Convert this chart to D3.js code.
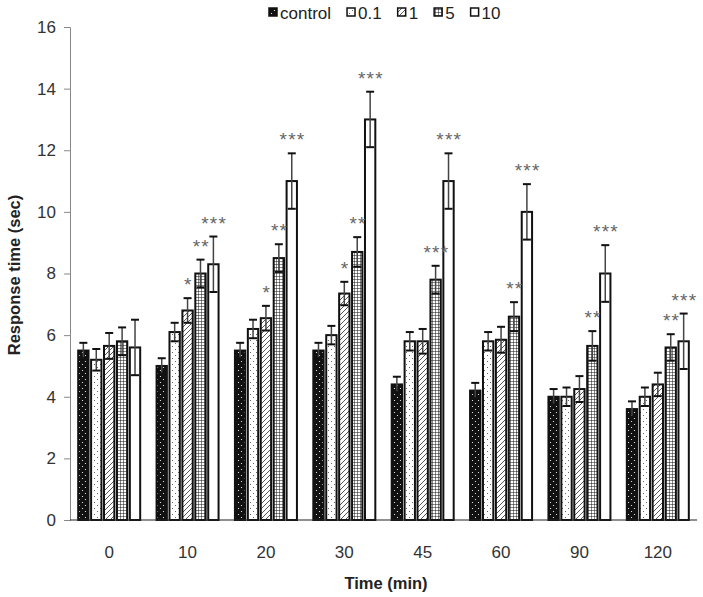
<!DOCTYPE html>
<html>
<head>
<meta charset="utf-8">
<script src="https://cdn.jsdelivr.net/npm/d3@7"></script>
<style>
  html, body { margin: 0; padding: 0; background: #fff; }
  svg { display: block; }
  text { font-family: Arial, "Liberation Sans", sans-serif; }
</style>
</head>
<body>
<svg id="chart" width="703" height="597"></svg>
<script>
// ---- data ----
const categories = ["0", "10", "20", "30", "45", "60", "90", "120"];
const seriesNames = ["control", "0.1", "1", "5", "10"];
const controlValues = [5.5, 5.0, 5.5, 5.5, 4.4, 4.2, 4.0, 3.6];
const dose01Values  = [5.2, 6.1, 6.2, 6.0, 5.8, 5.8, 4.0, 4.0];
const dose1Values   = [5.65, 6.8, 6.55, 7.35, 5.8, 5.85, 4.25, 4.4];
const dose5Values   = [5.8, 8.0, 8.5, 8.7, 7.8, 6.6, 5.65, 5.6];
const dose10Values  = [5.6, 8.3, 11.0, 13.0, 11.0, 10.0, 8.0, 5.8];
const controlErr = [0.25, 0.25, 0.25, 0.25, 0.25, 0.25, 0.25, 0.25];
const dose01Err  = [0.35, 0.3, 0.3, 0.3, 0.3, 0.3, 0.3, 0.3];
const dose1Err   = [0.42, 0.4, 0.4, 0.38, 0.4, 0.42, 0.42, 0.38];
const dose5Err   = [0.45, 0.45, 0.45, 0.48, 0.45, 0.47, 0.48, 0.43];
const dose10Err  = [0.9, 0.9, 0.9, 0.9, 0.9, 0.9, 0.92, 0.9];
const controlSig = ["", "", "", "", "", "", "", ""];
const dose01Sig  = ["", "", "", "", "", "", "", ""];
const dose1Sig   = ["", "*", "*", "*", "", "", "", ""];
const dose5Sig   = ["", "**", "**", "**", "***", "**", "**", "**"];
const dose10Sig  = ["", "***", "***", "***", "***", "***", "***", "***"];
const yTicks = [0, 2, 4, 6, 8, 10, 12, 14, 16];
const yTitle = "Response time (sec)";
const xTitle = "Time (min)";

const valuesBySeries = [controlValues, dose01Values, dose1Values, dose5Values, dose10Values];
const errBySeries = [controlErr, dose01Err, dose1Err, dose5Err, dose10Err];
const sigBySeries = [controlSig, dose01Sig, dose1Sig, dose5Sig, dose10Sig];

const svg = d3.select("#chart");
const plotLeft = 70, plotRight = 697, plotTop = 27, plotBottom = 520;

// ---- patterns ----
const defs = svg.append("defs");
function pat(id, w, h) {
  return defs.append("pattern").attr("id", id).attr("patternUnits", "userSpaceOnUse")
    .attr("width", w).attr("height", h);
}
let p = pat("p-control", 6, 6);
p.append("rect").attr("width", 6).attr("height", 6).attr("fill", "#111");
p.append("circle").attr("cx", 1.5).attr("cy", 1.5).attr("r", 0.6).attr("fill", "#fff");
p.append("circle").attr("cx", 4.5).attr("cy", 4.5).attr("r", 0.6).attr("fill", "#fff");
p = pat("p-01", 6, 6);
p.append("rect").attr("width", 6).attr("height", 6).attr("fill", "#fff");
p.append("circle").attr("cx", 1.5).attr("cy", 1.5).attr("r", 0.5).attr("fill", "#333");
p.append("circle").attr("cx", 4.5).attr("cy", 4.5).attr("r", 0.5).attr("fill", "#333");
p = pat("p-1", 5, 5);
p.append("rect").attr("width", 5).attr("height", 5).attr("fill", "#fff");
p.append("path").attr("d", "M-1,6 L6,-1 M-1,1 L1,-1 M4,6 L6,4").attr("stroke", "#444").attr("stroke-width", 0.9);
p = pat("p-5", 3, 3);
p.append("rect").attr("width", 3).attr("height", 3).attr("fill", "#fff");
p.append("path").attr("d", "M0,0 L3,0 M0,0 L0,3").attr("stroke", "#111").attr("stroke-width", 1);
p = pat("p-10", 4, 4);
p.append("rect").attr("width", 4).attr("height", 4).attr("fill", "#fff");
const fills = ["url(#p-control)", "url(#p-01)", "url(#p-1)", "url(#p-5)", "url(#p-10)"];

// ---- scales ----
const x0 = d3.scaleBand().domain(categories).range([plotLeft, plotRight]).padding(0);
const groupW = 62;
const x1 = d3.scaleBand().domain(seriesNames)
  .range([(x0.bandwidth() - groupW) / 2, (x0.bandwidth() + groupW) / 2]).paddingInner(0.2);
const y = d3.scaleLinear().domain([0, 16]).range([plotBottom, plotTop]);

// ---- y axis ----
const yAxis = svg.append("g").attr("transform", `translate(${plotLeft},0)`)
  .call(d3.axisLeft(y).tickValues(yTicks).tickSize(6).tickPadding(8));
yAxis.select(".domain").attr("stroke", "#888").attr("stroke-width", 1);
yAxis.selectAll(".tick line").attr("stroke", "#888");
yAxis.selectAll(".tick text").attr("font-size", 17).attr("fill", "#333")
  .attr("font-family", "Arial, 'Liberation Sans', sans-serif");

// ---- bars ----
const data = [];
categories.forEach((c, i) => {
  seriesNames.forEach((s, j) => {
    data.push({ cat: c, ser: s, j, v: valuesBySeries[j][i], e: errBySeries[j][i], sig: sigBySeries[j][i] });
  });
});
const g = svg.append("g");
g.selectAll("rect.bar").data(data).enter().append("rect").attr("class", "bar")
  .attr("x", d => x0(d.cat) + x1(d.ser))
  .attr("y", d => y(d.v))
  .attr("width", x1.bandwidth())
  .attr("height", d => y(0) - y(d.v))
  .attr("fill", d => fills[d.j])
  .attr("stroke", "#111").attr("stroke-width", 2);

// ---- error bars ----
const cx = d => x0(d.cat) + x1(d.ser) + x1.bandwidth() / 2;
g.selectAll("line.err").data(data).enter().append("line")
  .attr("x1", cx).attr("x2", cx)
  .attr("y1", d => y(d.v - d.e)).attr("y2", d => y(d.v + d.e))
  .attr("stroke", "#444").attr("stroke-width", 1.5);
[1, -1].forEach(sgn => {
  g.selectAll(null).data(data).enter().append("line")
    .attr("x1", d => cx(d) - 4).attr("x2", d => cx(d) + 4)
    .attr("y1", d => y(d.v + sgn * d.e)).attr("y2", d => y(d.v + sgn * d.e))
    .attr("stroke", "#111").attr("stroke-width", 2);
});

// ---- significance stars ----
g.selectAll("text.sig").data(data.filter(d => d.sig)).enter().append("text")
  .attr("class", "sig")
  .attr("x", d => cx(d) + 0.75)
  .attr("y", d => y(d.v + d.e) - 7)
  .attr("text-anchor", "middle")
  .attr("font-size", 19).attr("letter-spacing", 1.2)
  .attr("fill", "#666")
  .text(d => d.sig);

// ---- x axis ----
svg.append("line").attr("x1", plotLeft).attr("x2", plotRight).attr("y1", plotBottom).attr("y2", plotBottom)
  .attr("stroke", "#222").attr("stroke-width", 1.2);
svg.append("g").selectAll("text").data(categories).enter().append("text")
  .attr("x", d => x0(d) + x0.bandwidth() / 2)
  .attr("y", 558)
  .attr("text-anchor", "middle").attr("font-size", 17).attr("fill", "#333")
  .text(d => d);

// ---- titles ----
svg.append("text").attr("x", 386).attr("y", 589).attr("text-anchor", "middle")
  .attr("font-size", 16.5).attr("font-weight", "bold").attr("fill", "#222").text(xTitle);
svg.append("text").attr("transform", "translate(20,275) rotate(-90)").attr("text-anchor", "middle")
  .attr("font-size", 16.5).attr("font-weight", "bold").attr("fill", "#222").text(yTitle);

// ---- legend ----
const legend = svg.append("g");
let lx = 269;
seriesNames.forEach((s, j) => {
  legend.append("rect").attr("x", lx).attr("y", 8).attr("width", 8).attr("height", 8)
    .attr("fill", fills[j]).attr("stroke", "#111").attr("stroke-width", 1.5);
  const t = legend.append("text").attr("x", lx + 11).attr("y", 19)
    .attr("font-size", 17).attr("fill", "#222").text(s);
  lx += 11 + t.node().getComputedTextLength() + 16;
});
</script>
</body>
</html>
